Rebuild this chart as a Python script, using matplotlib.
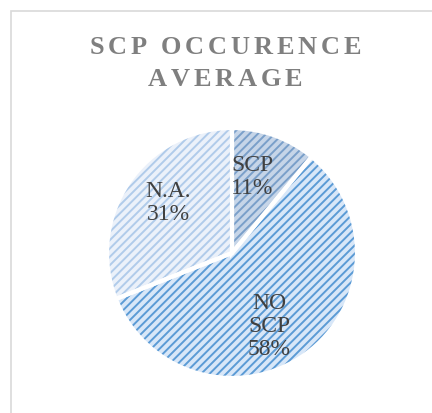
import matplotlib
matplotlib.use("Agg")
import numpy as np
import matplotlib.pyplot as plt
from matplotlib.patches import Rectangle

categories = ["SCP", "NO\nSCP", "N.A."]
values = [11, 58, 31]
title_lines = ["SCP OCCURENCE", "AVERAGE"]

face_colors = ["#c6d5e8", "#d8e7f8", "#ebf1fa"]
hatch_colors = ["#7a9fc9", "#5b9bd5", "#b0cbea"]
# label placement (angle in degrees, radius fraction) - layout only
label_pos = [(75, 0.63), (-63, 0.66), (142, 0.65)]

W, H = 432, 413
plt.rcParams['hatch.linewidth'] = 1.4
fig = plt.figure(figsize=(W / 100, H / 100), dpi=100)

# border
fig.add_artist(Rectangle((10.5 / W, -0.1), 2.0, 1.1 - 11.5 / H,
                         transform=fig.transFigure, fill=False,
                         edgecolor="#d9d9d9", linewidth=1.2))

cx, cy, r = 232, 253, 125
ax = fig.add_axes([(cx - r) / W, (H - cy - r) / H, 2 * r / W, 2 * r / H])
ax.set_aspect('equal')

wedges, _ = ax.pie(values, startangle=90, counterclock=False,
                   colors=face_colors, radius=1.0,
                   wedgeprops=dict(linewidth=0))
for w, hc in zip(wedges, hatch_colors):
    w.set_hatch('////')
    w.set_edgecolor(hc)
    w.set_linewidth(0)

ax.pie(values, startangle=90, counterclock=False, radius=1.0,
       wedgeprops=dict(fill=False, edgecolor="white", linewidth=3))

for c, v, (ang, dist) in zip(categories, values, label_pos):
    a = np.deg2rad(ang)
    ax.text(dist * np.cos(a), dist * np.sin(a), f"{c}\n{v}%",
            family="Liberation Serif", fontsize=17, color="#404040",
            linespacing=1.15, ha="center", va="center")
ax.set_xlim(-1, 1)
ax.set_ylim(-1, 1)

# letter-spaced title
renderer = fig.canvas.get_renderer()
def spaced_text(s, xc, yc, size, spacing):
    arts = []
    widths = []
    for ch in s:
        t = fig.text(0, 0, ch if ch != " " else "\u00a0", fontsize=size,
                     family="Liberation Serif", weight="bold", color="#7f7f7f",
                     ha="left", va="center")
        bb = t.get_window_extent(renderer)
        arts.append(t)
        widths.append(bb.width)
    total = sum(widths) + spacing * (len(s) - 1)
    x = xc - total / 2
    for t, wdt in zip(arts, widths):
        t.set_position((x / W, 1 - yc / H))
        x += wdt + spacing

spaced_text(title_lines[0], 225, 48, 19, 3.8)
spaced_text(title_lines[1], 225, 79, 19, 3.8)

fig.savefig("out.png", dpi=100, facecolor="white")
